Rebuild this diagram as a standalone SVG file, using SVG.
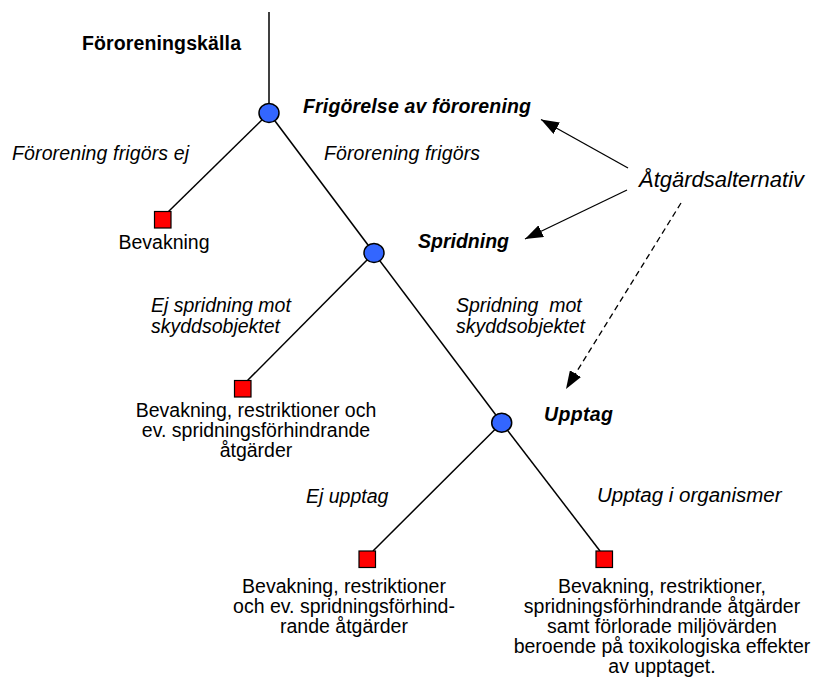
<svg xmlns="http://www.w3.org/2000/svg" width="816" height="680" viewBox="0 0 816 680">
<defs>
<style>
text{font-family:"Liberation Sans",Arial,sans-serif;font-size:19.5px;fill:#000}
.b{font-weight:bold}
.i{font-style:italic}
.c{text-anchor:middle}
.ln{stroke:#000;stroke-width:1.5;fill:none}
.ar{stroke:#000;stroke-width:1.3;fill:none}
.circ{fill:#3366FF;stroke:#000;stroke-width:1.5}
.sq{fill:#FF0000;stroke:#000;stroke-width:1.2}
</style>
<marker id="ah" markerUnits="userSpaceOnUse" markerWidth="18" markerHeight="13" refX="18" refY="6.5" orient="auto">
<path d="M0,0 L18,6.5 L0,13 z" fill="#000"/>
</marker>
</defs>
<rect width="816" height="680" fill="#fff"/>
<g id="connectors">
<line class="ln" x1="269" y1="12" x2="269" y2="104"/>
<line class="ln" x1="269" y1="113" x2="168" y2="212"/>
<line class="ln" x1="269" y1="113" x2="374" y2="253"/>
<line class="ln" x1="374" y1="253" x2="247" y2="381"/>
<line class="ln" x1="374" y1="253" x2="501.7" y2="422.7"/>
<line class="ln" x1="501.7" y1="422.7" x2="373" y2="551"/>
<line class="ln" x1="501.7" y1="422.7" x2="600" y2="551"/>
<line class="ar" x1="628" y1="168" x2="541" y2="119.5" marker-end="url(#ah)"/>
<line class="ar" x1="627" y1="190" x2="525" y2="239" marker-end="url(#ah)"/>
<line class="ar" x1="681" y1="203" x2="566" y2="389" stroke-dasharray="6,4" marker-end="url(#ah)"/>
</g>
<g id="source"><text class="b" x="82" y="50" textLength="159">Föroreningskälla</text></g>
<g id="node-frigorelse">
<ellipse class="circ" cx="269" cy="113" rx="10" ry="9.5"/>
<text class="b i" x="303" y="113" textLength="228">Frigörelse av förorening</text>
</g>
<g id="label-ej-frigors"><text class="i" x="12" y="160" textLength="177">Förorening frigörs ej</text></g>
<g id="label-frigors"><text class="i" x="324" y="160" textLength="156">Förorening frigörs</text></g>
<g id="atgardsalternativ"><text class="i" x="639" y="187" style="font-size:22px">Åtgärdsalternativ</text></g>
<g id="leaf-bevakning">
<rect class="sq" x="154.5" y="211.5" width="16.5" height="16.5"/>
<text class="c" x="164" y="249">Bevakning</text>
</g>
<g id="node-spridning">
<ellipse class="circ" cx="374" cy="253" rx="10" ry="9.5"/>
<text class="b i" x="418" y="248" textLength="91">Spridning</text>
</g>
<g id="label-ej-spridning"><text class="i" x="151" y="312">Ej spridning mot</text><text class="i" x="151" y="333">skyddsobjektet</text></g>
<g id="label-spridning"><text class="i" x="456" y="312">Spridning&#160; mot</text><text class="i" x="456" y="333">skyddsobjektet</text></g>
<g id="leaf-restriktioner">
<rect class="sq" x="234.5" y="380.5" width="16.5" height="16.5"/>
<text class="c" x="256" y="417">Bevakning, restriktioner och</text>
<text class="c" x="256" y="437">ev. spridningsförhindrande</text>
<text class="c" x="256" y="457">åtgärder</text>
</g>
<g id="node-upptag">
<ellipse class="circ" cx="501.7" cy="422.7" rx="10" ry="9.5"/>
<text class="b i" x="544" y="421" textLength="69">Upptag</text>
</g>
<g id="label-ej-upptag"><text class="i" x="306" y="503">Ej upptag</text></g>
<g id="label-upptag"><text class="i" x="597" y="502" style="font-size:20.5px">Upptag i organismer</text></g>
<g id="leaf-ej-upptag">
<rect class="sq" x="359" y="551" width="16.5" height="16.5"/>
<text class="c" x="344" y="593">Bevakning, restriktioner</text>
<text class="c" x="344" y="613">och ev. spridningsförhind-</text>
<text class="c" x="344" y="633">rande åtgärder</text>
</g>
<g id="leaf-upptag">
<rect class="sq" x="596" y="551" width="16.5" height="16.5"/>
<text class="c" x="662" y="593">Bevakning, restriktioner,</text>
<text class="c" x="662" y="613">spridningsförhindrande åtgärder</text>
<text class="c" x="662" y="633">samt förlorade miljövärden</text>
<text class="c" x="662" y="653">beroende på toxikologiska effekter</text>
<text class="c" x="662" y="673">av upptaget.</text>
</g>
</svg>
